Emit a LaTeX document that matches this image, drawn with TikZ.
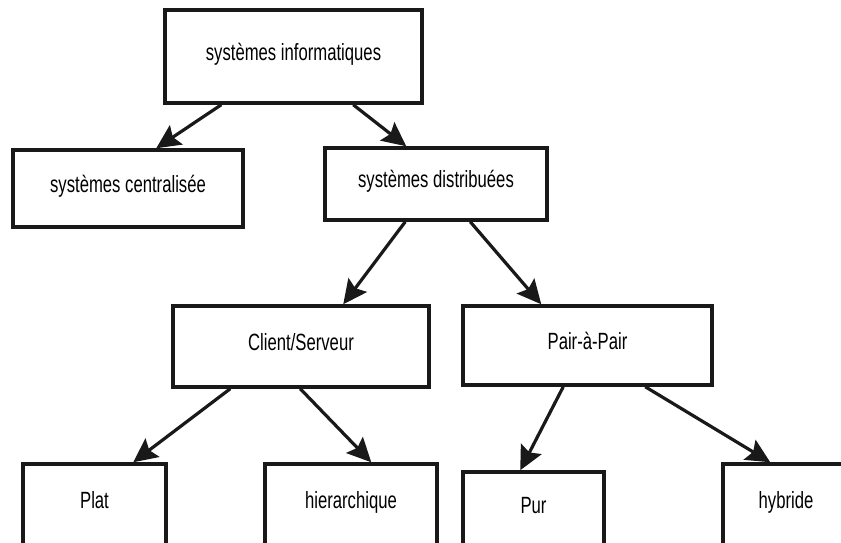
\documentclass[tikz,border=0pt]{standalone}
\usepackage{fontspec}
\setmainfont{Liberation Sans}[FakeStretch=0.71]
\usetikzlibrary{arrows.meta}
\begin{document}
\begin{tikzpicture}[x=1pt,y=-1pt,
  box/.style={draw=black!90, line width=3.5pt, fill=white, inner sep=0pt,
    font=\fontsize{23.5}{27}\selectfont, text height=0.72em, text depth=0pt},
  link/.style={draw=black!90, line width=3.2pt,
    -{Stealth[length=24pt,width=23pt,inset=4pt]}}]
  \useasboundingbox (0,0) rectangle (841,542);
  \fill[white] (0,0) rectangle (841,542);
  \clip (0,0) rectangle (841,542);

  % tree of boxes
  \node[box, minimum width=257pt, minimum height=93pt] (b1) at (293.5,56.5) {systèmes informatiques};
  \node[box, minimum width=230pt, minimum height=77pt] (b2) at (128,188.5) {systèmes centralisée};
  \node[box, minimum width=222pt, minimum height=72pt] (b3) at (436,184) {systèmes distribuées};
  \node[box, minimum width=256pt, minimum height=81pt] (b4) at (301,346.5) {Client/Serveur};
  \node[box, minimum width=249pt, minimum height=79pt] (b5) at (587.5,345.5) {Pair-à-Pair};
  \node[box, minimum width=143pt, minimum height=82pt] (b6) at (94.5,505) {Plat};
  \node[box, minimum width=172pt, minimum height=82pt] (b7) at (351,505) {hierarchique};
  \node[box, minimum width=141pt, minimum height=76pt] (b8) at (533.5,510) {Pur};
  \node[box, minimum width=126pt, minimum height=82pt] (b9) at (786,505) {hybride};

  % arrows from parent to child
  \draw[link] ([xshift=58pt]b1.south west) -- ([xshift=145pt]b2.north west);
  \draw[link] ([xshift=190pt]b1.south west) -- ([xshift=83pt]b3.north west);
  \draw[link] ([xshift=82pt]b3.south west) -- ([xshift=172pt]b4.north west);
  \draw[link] ([xshift=147pt]b3.south west) -- ([xshift=80pt]b5.north west);
  \draw[link] ([xshift=59pt]b4.south west) -- ([xshift=112pt]b6.north west);
  \draw[link] ([xshift=129pt]b4.south west) -- ([xshift=108pt]b7.north west);
  \draw[link] ([xshift=102pt]b5.south west) -- ([xshift=59pt]b8.north west);
  \draw[link] ([xshift=184pt]b5.south west) -- ([xshift=49pt]b9.north west);
\end{tikzpicture}
\end{document}
